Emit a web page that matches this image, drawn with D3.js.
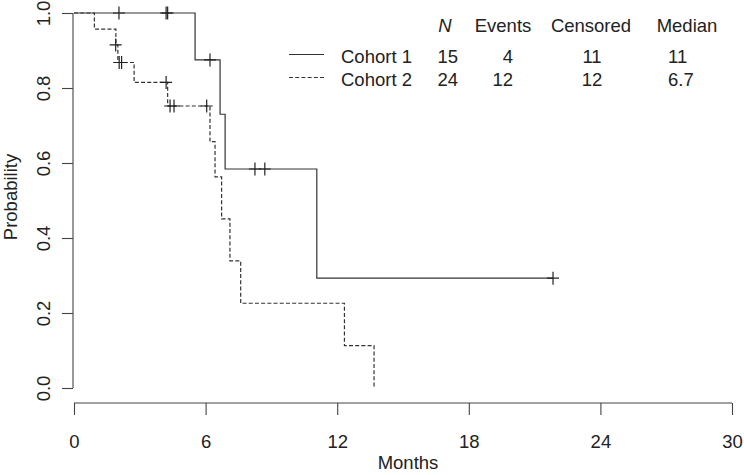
<!DOCTYPE html>
<html>
<head>
<meta charset="utf-8">
<script src="https://cdn.jsdelivr.net/npm/d3@7"></script>
<style>
  body { margin: 0; background: #fff; }
  svg { display: block; font-family: 'Liberation Sans', Arial, sans-serif; }
</style>
</head>
<body>
<svg id="chart"></svg>
<script>
// cohort 1 (solid) step curve
const c1Times = [0, 5.52, 6.66, 6.89, 11.07, 21.84]
const c1Surv = [1, 0.875, 0.73, 0.584, 0.293, 0.293]
const c1CensorT = [2.05, 4.2, 4.27, 6.2, 8.25, 8.7, 21.84]
const c1CensorS = [1, 1, 1, 0.875, 0.584, 0.584, 0.293]

// cohort 2 (dashed)
const c2Times = [0, 0.93, 1.91, 2.0, 2.74, 4.27, 6.2, 6.43, 6.73, 7.11, 7.6, 12.33, 13.68]
const c2Surv = [1, 0.957, 0.915, 0.868, 0.815, 0.752, 0.657, 0.563, 0.451, 0.339, 0.226, 0.113, 0]
const c2CensorT = [1.9, 2.06, 2.17, 4.2, 4.38, 4.56, 6.05]
const c2CensorS = [0.915, 0.868, 0.868, 0.815, 0.752, 0.752, 0.752]

// legend table
const cohorts = ['Cohort 1', 'Cohort 2']
const nValues = [15, 24]
const eventValues = [4, 12]
const censoredValues = [11, 12]
const medianValues = ['11', '6.7']

// ticks
const xTicks = [0, 6, 12, 18, 24, 30]
const yTicks = [0, 0.2, 0.4, 0.6, 0.8, 1.0]

const w = 744
const h = 475
const ink = '#222'
const lineColor = '#333'
const fs = '18.5px'

const svg = d3.select('#chart').attr('width', w).attr('height', h)

const x = d3.scaleLinear().domain([0, 30]).range([74, 732])
const y = d3.scaleLinear().domain([0, 1]).range([388, 13])

// x axis, R style: line only between first and last tick
const xAxis = svg.append('g')
    .attr('transform', 'translate(0,403)')
    .call(d3.axisBottom(x).tickValues(xTicks).tickSize(12).tickPadding(20).tickFormat(d3.format('d')))
xAxis.select('.domain').attr('d', `M${x(0)},0H${x(30)}`)
xAxis.selectAll('line, path').attr('stroke', '#444').attr('stroke-width', 1.1)
xAxis.selectAll('text').attr('font-size', fs).attr('fill', ink).attr('font-family', null)

// y axis, labels rotated like base R
const yAxis = svg.append('g')
    .attr('transform', 'translate(73,0)')
    .call(d3.axisLeft(y).tickValues(yTicks).tickSize(11).tickFormat(d3.format('.1f')))
yAxis.select('.domain').attr('d', `M0,${y(0)}V${y(1)}`)
yAxis.selectAll('line, path').attr('stroke', '#444').attr('stroke-width', 1.1)
yAxis.selectAll('text')
    .attr('font-size', fs).attr('fill', ink).attr('font-family', null)
    .attr('x', null).attr('dy', null)
    .attr('text-anchor', 'middle')
    .attr('transform', 'translate(-23,0) rotate(-90)')

svg.append('text')
    .attr('transform', 'translate(17,197) rotate(-90)')
    .attr('text-anchor', 'middle')
    .attr('font-size', fs).attr('fill', ink)
    .text('Probability')

svg.append('text')
    .attr('x', 408).attr('y', 469)
    .attr('text-anchor', 'middle')
    .attr('font-size', fs).attr('fill', ink)
    .text('Months')

// survival curves
const step = d3.line().x(d => x(d[0])).y(d => y(d[1])).curve(d3.curveStepAfter)
const series = [
    { t: c1Times, s: c1Surv, ct: c1CensorT, cs: c1CensorS, dash: null },
    { t: c2Times, s: c2Surv, ct: c2CensorT, cs: c2CensorS, dash: '4,2.2' },
]

series.forEach(sr => {
    const pts = sr.t.map((t, i) => [t, sr.s[i]])
    svg.append('path')
        .attr('d', step(pts))
        .attr('fill', 'none')
        .attr('stroke', lineColor)
        .attr('stroke-width', 1.2)
        .attr('stroke-dasharray', sr.dash)

    // censor marks '+'
    const marks = sr.ct.map((t, i) => [t, sr.cs[i]])
    svg.selectAll(null)
        .data(marks)
        .join('path')
        .attr('d', d => `M${x(d[0]) - 6},${y(d[1])}h12M${x(d[0])},${y(d[1]) - 6.5}v13`)
        .attr('stroke', ink)
        .attr('stroke-width', 1.2)
})

// legend table
const legend = svg.append('g').attr('font-size', fs).attr('fill', ink)
const header = [
    { label: 'N', x: 445, italic: true },
    { label: 'Events', x: 503 },
    { label: 'Censored', x: 591 },
    { label: 'Median', x: 687 },
]
legend.selectAll(null)
    .data(header)
    .join('text')
    .attr('x', d => d.x).attr('y', 32)
    .attr('text-anchor', 'middle')
    .attr('font-style', d => d.italic ? 'italic' : null)
    .text(d => d.label)

const rowY = [63, 85.5]
const lineY = [54.5, 77.5]
cohorts.forEach((c, i) => {
    legend.append('line')
        .attr('x1', 289).attr('x2', 324)
        .attr('y1', lineY[i]).attr('y2', lineY[i])
        .attr('stroke', lineColor).attr('stroke-width', 1.2)
        .attr('stroke-dasharray', series[i].dash)
    legend.append('text').attr('x', 341).attr('y', rowY[i]).text(c)
    legend.append('text').attr('x', 458).attr('y', rowY[i]).attr('text-anchor', 'end').text(nValues[i])
    legend.append('text').attr('x', 513).attr('y', rowY[i]).attr('text-anchor', 'end').text(eventValues[i])
    legend.append('text').attr('x', 592).attr('y', rowY[i]).attr('text-anchor', 'middle').text(censoredValues[i])
    legend.append('text').attr('x', 668).attr('y', rowY[i]).text(medianValues[i])
})
</script>
</body>
</html>
